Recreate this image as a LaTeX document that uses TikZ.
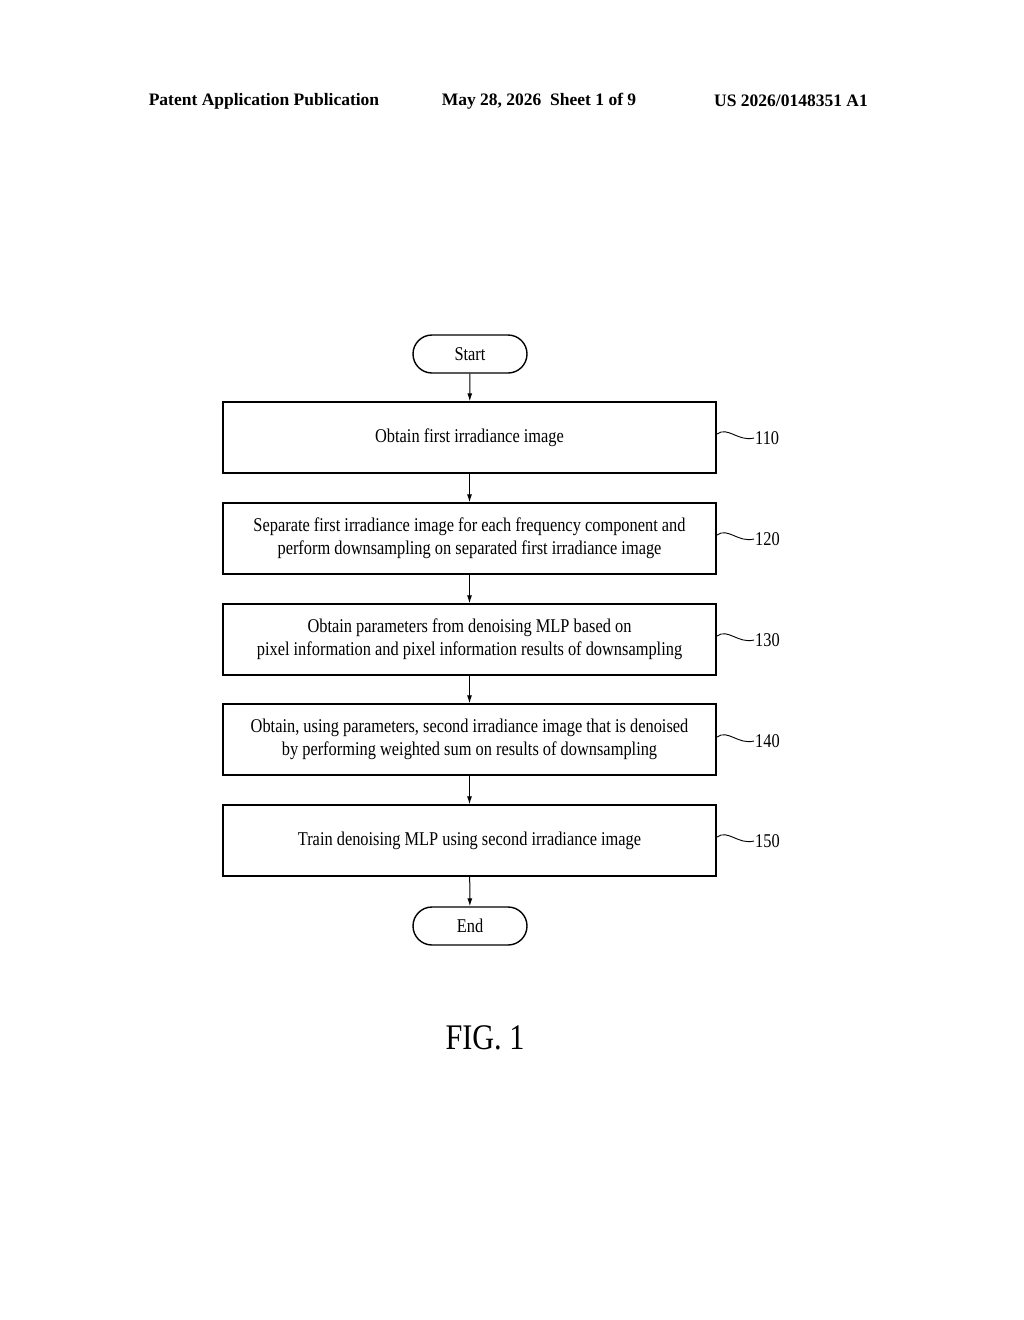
\documentclass[tikz,border=0pt]{standalone}
\usetikzlibrary{arrows.meta}
\usepackage{fontspec}
\setmainfont{Liberation Serif}
\newfontfamily\cond[FakeStretch=0.84]{Liberation Serif}
\begin{document}
\begin{tikzpicture}[x=1pt,y=-1pt,
  box/.style={draw,line width=1.4pt,minimum width=493pt,minimum height=71pt,inner sep=0pt,align=center,font=\cond\fontsize{19.5}{23}\selectfont},
  term/.style={draw,line width=1.4pt,rounded corners=19pt,minimum width=114pt,minimum height=38pt,inner sep=0pt,font=\cond\fontsize{19.5}{23}\selectfont},
  arr/.style={-{Latex[length=8pt,width=5pt]},line width=1pt},
  lbl/.style={font=\cond\fontsize{19.5}{23}\selectfont,anchor=west,inner sep=1pt},
  sq/.style={line width=0.9pt}]
\useasboundingbox (0,0) rectangle (1024,1320);
\node[font=\bfseries\fontsize{17.5}{20}\selectfont] (h1) at (264,101) {Patent Application Publication};
\node[font=\bfseries\fontsize{17.5}{20}\selectfont] (h2) at (539,101) {May 28, 2026\ \ Sheet 1 of 9};
\node[font=\bfseries\fontsize{17.5}{20}\selectfont] (h3) at (791,101) {US 2026/0148351 A1};
\node[term] (s) at (470,354) {Start};
\node[box] (b1) at (469.5,437.5) {Obtain first irradiance image};
\node[box] (b2) at (469.5,538.5) {Separate first irradiance image for each frequency component and\\perform downsampling on separated first irradiance image};
\node[box] (b3) at (469.5,639.5) {Obtain parameters from denoising MLP based on\\pixel information and pixel information results of downsampling};
\node[box] (b4) at (469.5,739.5) {Obtain, using parameters, second irradiance image that is denoised\\by performing weighted sum on results of downsampling};
\node[box] (b5) at (469.5,840.5) {Train denoising MLP using second irradiance image};
\node[term] (e) at (470,926) {End};
\draw[arr] (s) -- (b1);
\draw[arr] (b1) -- (b2);
\draw[arr] (b2) -- (b3);
\draw[arr] (b3) -- (b4);
\draw[arr] (b4) -- (b5);
\draw[arr] (b5) -- (e);
\foreach \n/\t/\y in {b1/110/438,b2/120/539,b3/130/640,b4/140/741,b5/150/841}{
  \node[lbl] (l\t) at (754,\y) {\t};
  \coordinate (c\t) at (717,\y-4);
  \draw[sq] (c\t) .. controls (728,\y-12) and (738,\y+4) .. (l\t.west);
}
\node[font=\cond\fontsize{36}{40}\selectfont] (fig) at (485,1038) {FIG. 1};
\end{tikzpicture}
\end{document}
